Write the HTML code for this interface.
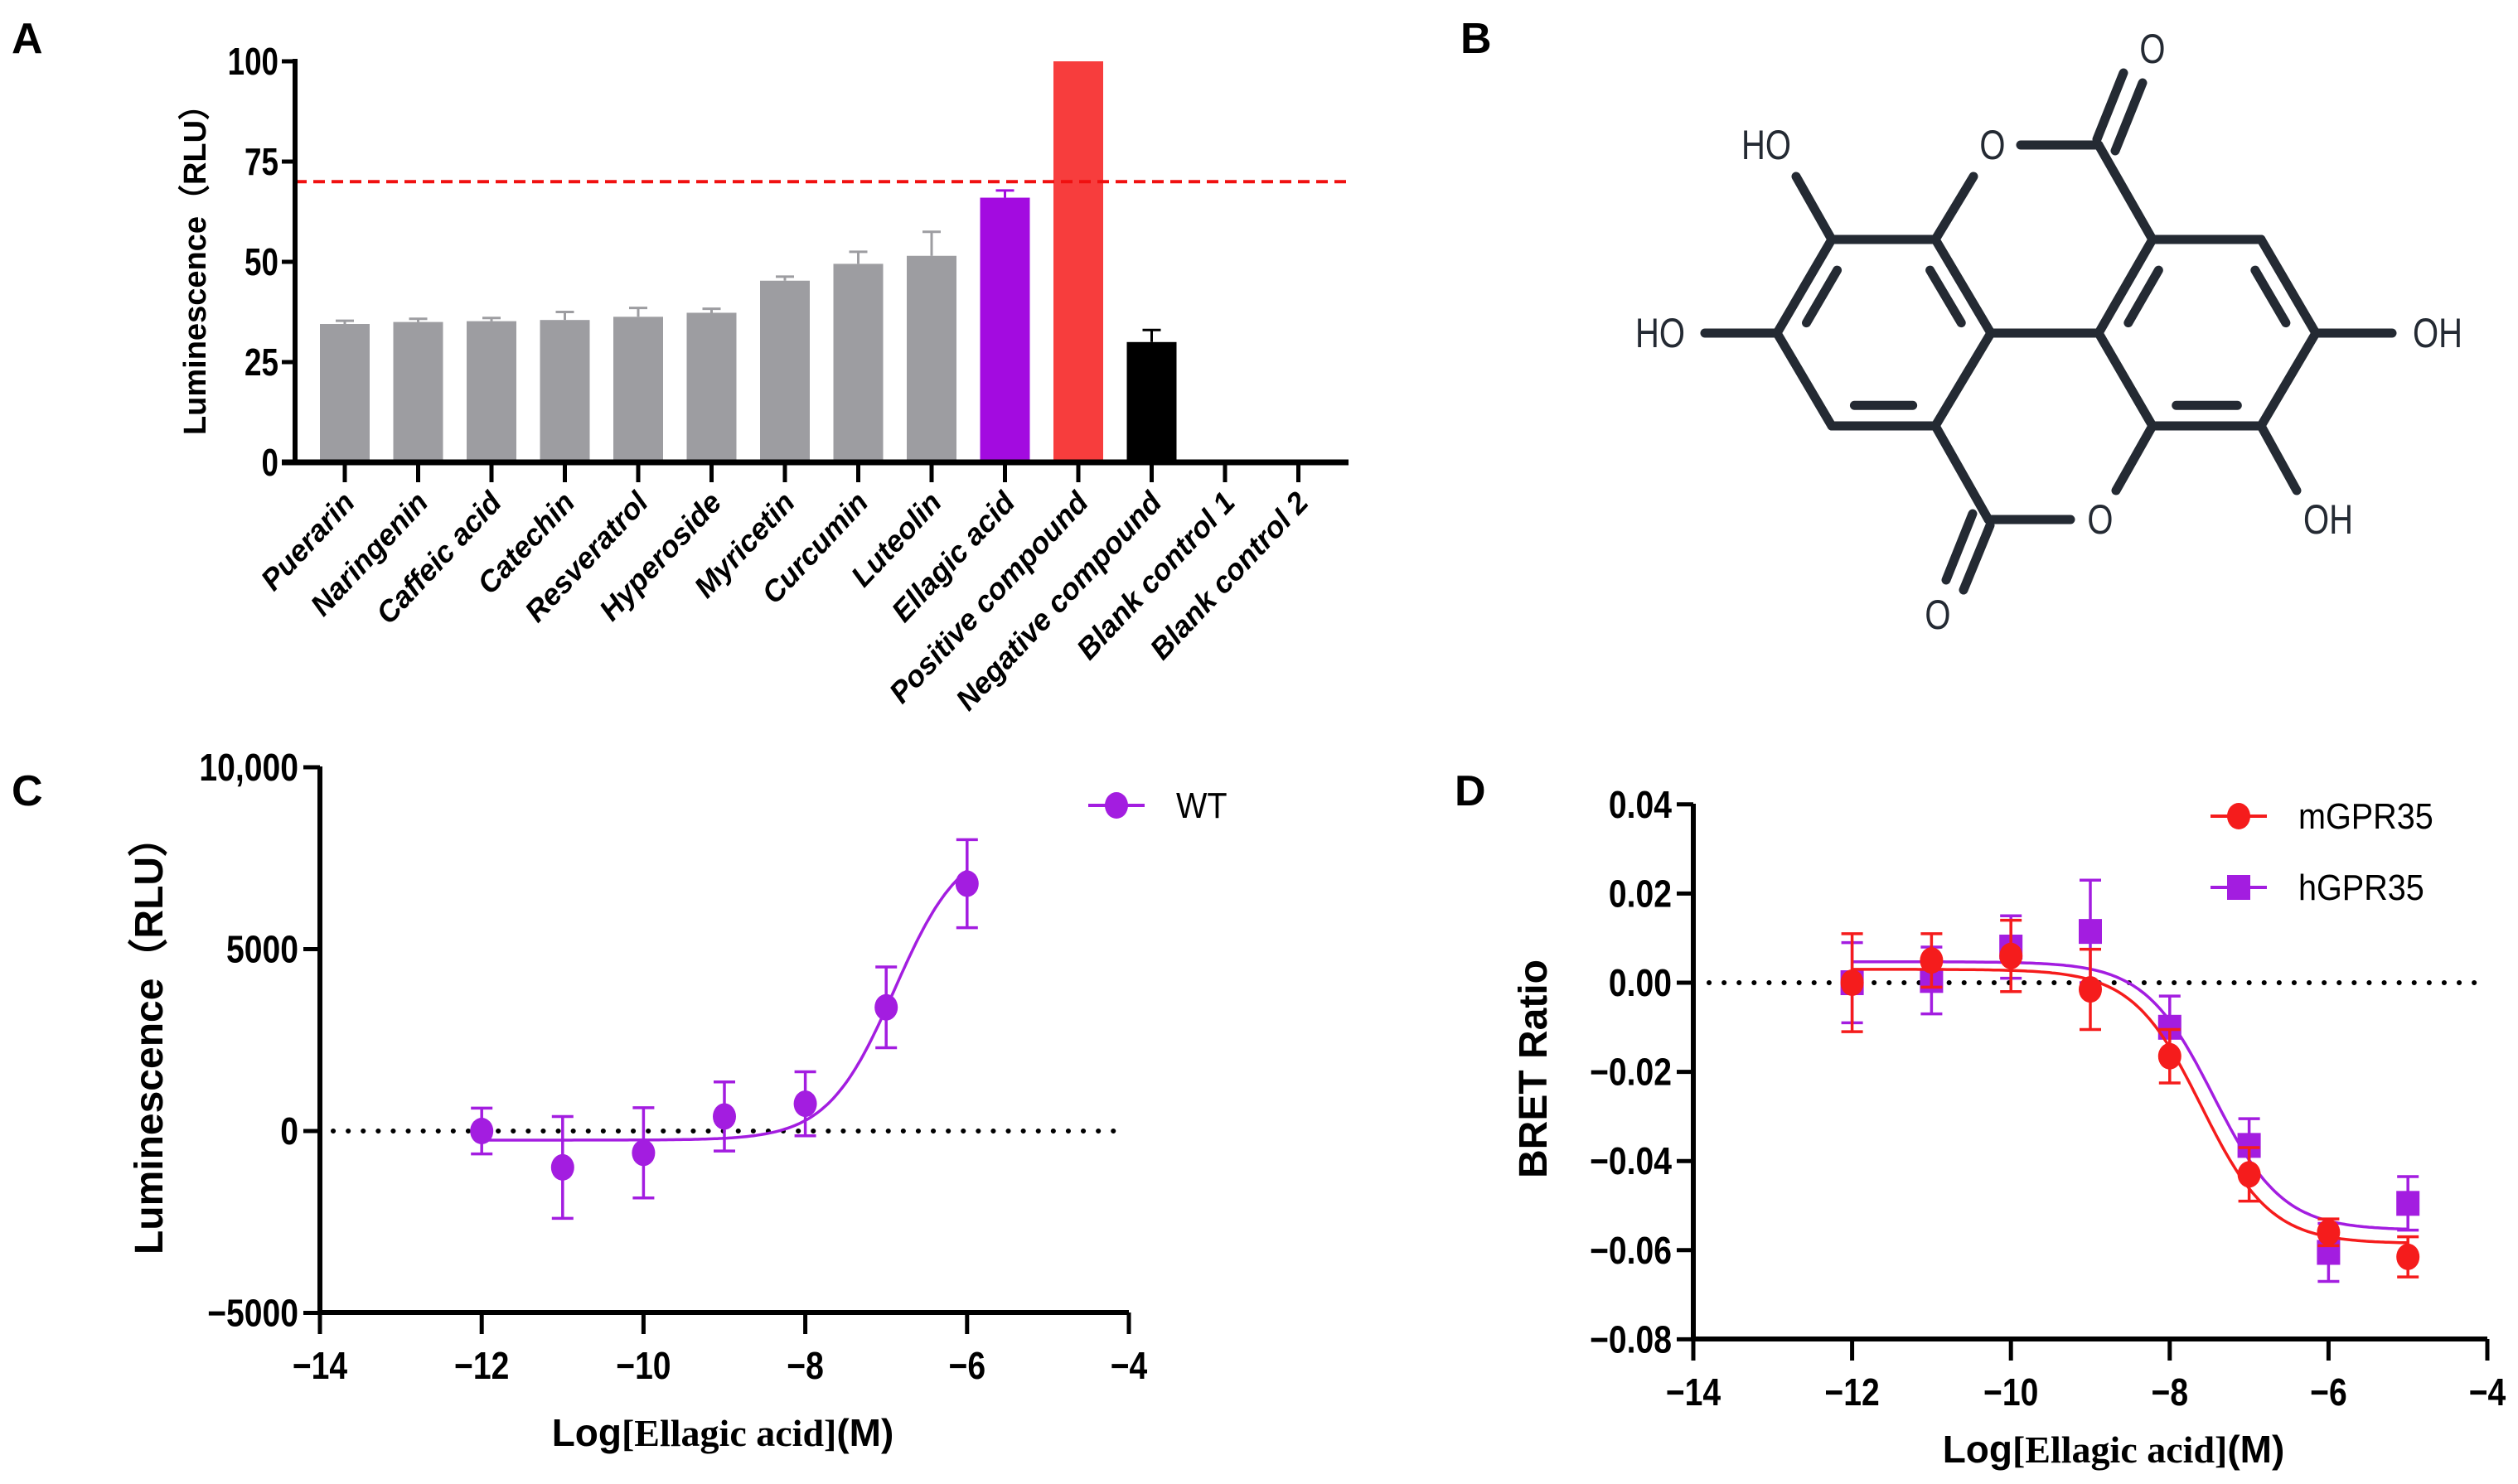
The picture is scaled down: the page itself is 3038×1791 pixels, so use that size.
<!DOCTYPE html>
<html><head><meta charset="utf-8"><style>
html,body{margin:0;padding:0;background:#fff;}
svg{display:block;}
text{font-family:"Liberation Sans",sans-serif;}
.tk{font-family:"Liberation Sans Narrow","Liberation Sans",sans-serif;font-weight:bold;}
</style></head><body>
<svg id="fig" width="3038" height="1791" viewBox="0 0 3038 1791" xmlns="http://www.w3.org/2000/svg">
<rect width="3038" height="1791" fill="#fff"/>
<text x="14" y="64" font-size="52" font-weight="bold">A</text>
<text x="1762" y="64" font-size="52" font-weight="bold">B</text>
<text x="14" y="972" font-size="52" font-weight="bold">C</text>
<text x="1755" y="972" font-size="52" font-weight="bold">D</text>
<g id="gA"></g>
<g id="gB"></g>
<g id="gC"></g>
<g id="gD"></g>
</svg>
<script>
// ---------- Panel A data ----------
const aCategories = ["Puerarin","Naringenin","Caffeic acid","Catechin","Resveratrol","Hyperoside","Myricetin","Curcumin","Luteolin","Ellagic acid","Positive compound","Negative compound","Blank control 1","Blank control 2"];
const aValues = [34.5,35,35.2,35.5,36.3,37.3,45.3,49.5,51.5,66,100,30,0,0];
const aErrors = [0.8,0.8,0.8,2.0,2.2,1.0,1.0,3.0,6.0,1.8,0,3.0,0,0];
const aColors = ["#9d9da1","#9d9da1","#9d9da1","#9d9da1","#9d9da1","#9d9da1","#9d9da1","#9d9da1","#9d9da1","#a30be0","#f73d3d","#000000","#9d9da1","#9d9da1"];
const aTicks = [0,25,50,75,100];
const aThreshold = 70;
// ---------- Panel C data ----------
const cX = [-12,-11,-10,-9,-8,-7,-6];
const cY = [0,-1000,-600,400,750,3400,6800];
const cErr = [630,1400,1240,950,880,1110,1210];
const cFit = {bottom:-250, top:8000, ec50:-6.9, hill:1.05};
const cYTicks = [-5000,0,5000,10000];
const cYTickLabels = ["\u22125000","0","5000","10,000"];
const cXTicks = [-14,-12,-10,-8,-6,-4];
// ---------- Panel D data ----------
const dX = [-12,-11,-10,-9,-8,-7,-6,-5];
const dM = [0.000,0.005,0.006,-0.0015,-0.0165,-0.043,-0.056,-0.0615];
const dMErr = [0.011,0.006,0.008,0.009,0.006,0.006,0.003,0.0045];
const dH = [0.000,0.0005,0.008,0.0115,-0.010,-0.0365,-0.0605,-0.0495];
const dHErr = [0.009,0.0075,0.007,0.0115,0.007,0.006,0.0065,0.006];
const dMFit = {top:0.003, bottom:-0.0585, ec50:-7.6, hill:-1.0};
const dHFit = {top:0.0047, bottom:-0.0555, ec50:-7.45, hill:-1.0};
const dYTicks = [-0.08,-0.06,-0.04,-0.02,0,0.02,0.04];
const dXTicks = [-14,-12,-10,-8,-6,-4];

const NS="http://www.w3.org/2000/svg";
function mk(parent,tag,attrs,txt){const e=document.createElementNS(NS,tag);for(const k in attrs)e.setAttribute(k,attrs[k]);if(txt!==undefined)e.textContent=txt;parent.appendChild(e);return e;}
const minus=s=>String(s).replace('-','\u2212');

// ---------- Panel A ----------
(function(){
const g=document.getElementById('gA');
const ax0=356, ax1=1627, y0=558, y100=74;
const ys=v=>y0+(y100-y0)*v/100;
const xs=i=>416+i*88.5;
const bw=60;
aCategories.forEach((c,i)=>{
  const v=aValues[i], x=xs(i);
  if(v>0){
    const e=aErrors[i];
    if(e>0){
      const el=mk(g,'path',{d:`M${x} ${ys(v)} V${ys(v+e)} M${x-11} ${ys(v+e)} H${x+11}`,stroke:aColors[i],'stroke-width':3,fill:'none'});
      
      
    }
    const r=mk(g,'rect',{x:x-bw/2,y:ys(v),width:bw,height:y0-ys(v),fill:aColors[i]});
    
    
  }
  const t=mk(g,'line',{x1:x,x2:x,y1:y0,y2:y0+24,stroke:'#000','stroke-width':5});
  
  
  const l=mk(g,'text',{x:0,y:0,'font-size':36,'font-weight':'bold','font-style':'italic','text-anchor':'end',transform:`translate(${x+14},${y0+50}) rotate(-47)`},c);
  
  
});
const th=mk(g,'line',{x1:ax0,x2:ax1,y1:ys(aThreshold),y2:ys(aThreshold),stroke:'#f01010','stroke-width':4,'stroke-dasharray':'14 8'});


const ya=mk(g,'line',{x1:ax0,x2:ax0,y1:y100-3,y2:y0,stroke:'#000','stroke-width':6});


const xa=mk(g,'line',{x1:ax0-16,x2:ax1,y1:y0,y2:y0,stroke:'#000','stroke-width':7});


aTicks.forEach(v=>{
  const t=mk(g,'line',{x1:ax0-16,x2:ax0,y1:ys(v),y2:ys(v),stroke:'#000','stroke-width':5});
  
  
  const l=mk(g,'text',{x:ax0-20,y:ys(v)+16,'font-size':46,'text-anchor':'end',class:'tk',transform:`translate(${ax0-20},0) scale(0.8,1) translate(${-(ax0-20)},0)`},String(v));
  
  
});
const yt=mk(g,'text',{x:0,y:0,'font-size':38,'font-weight':'bold','text-anchor':'middle',transform:'translate(248,316) rotate(-90)'},'Luminescence（RLU）');


})();

// ---------- Panel B (structure) ----------
(function(){
const g=document.getElementById('gB');
const col='#242a33', sw=11;
const L=[[2210,289],[2335,289],[2402,402],[2335,514],[2210,514],[2144,402]];
const R=[[2597,289],[2728,289],[2794,402],[2728,514],[2597,514],[2532,402]];
function line(a,b,w){mk(g,'line',{x1:a[0],y1:a[1],x2:b[0],y2:b[1],stroke:col,'stroke-width':w||sw,'stroke-linecap':'round'});}
function ring(P){for(let i=0;i<6;i++)line(P[i],P[(i+1)%6]);}
function inner(P,i){const c=[P.reduce((s,p)=>s+p[0],0)/6,P.reduce((s,p)=>s+p[1],0)/6];const a=P[i],b=P[(i+1)%6];
  const f=0.78; const sh=t=>[c[0]+(t[0]-c[0])*f,c[1]+(t[1]-c[1])*f];
  let A=sh(a),B=sh(b); const dx=B[0]-A[0],dy=B[1]-A[1]; const k=0.14;
  line([A[0]+dx*k,A[1]+dy*k],[B[0]-dx*k,B[1]-dy*k]);}
ring(L);ring(R);
inner(L,5);inner(L,1);inner(L,3);
inner(R,5);inner(R,1);inner(R,3);
line(L[2],R[5]);
line(L[0],[2167,213]); line(L[1],[2381,213]);
line([2438,175],[2532,175]); line([2532,175],R[0]);
line([2530,168],[2562,88]); line([2552,182],[2585,100]);
line(L[3],[2399,627]); line([2399,627],[2498,627]); line([2553,592],R[4]);
line([2401,634],[2369,712]); line([2380,620],[2348,700]);
line(L[5],[2057,402]); line(R[2],[2886,402]); line(R[3],[2771,592]);
const labs=[["HO",2131,175],["O",2404,175],["O",2597,59],["HO",2003,402],["OH",2941,402],["O",2534,627],["OH",2809,627],["O",2338,742]];
labs.forEach(([s,x,y])=>{const t=mk(g,'text',{x:x,y:y+17,'font-size':50,fill:col,'text-anchor':'middle',transform:`translate(${x},0) scale(0.8,1) translate(${-x},0)`},s);
  
  });
})();

// ---------- Shared dose-response drawing ----------
function sig(p,x){return p.bottom+(p.top-p.bottom)/(1+Math.pow(10,(p.ec50-x)*p.hill));}
function drawAxes(g,o){
  const xa=mk(g,'line',{x1:o.ax0-3,x2:o.xs(o.xmax),y1:o.yb,y2:o.yb,stroke:'#000','stroke-width':6});
  
  
  const ya=mk(g,'line',{x1:o.ax0,x2:o.ax0,y1:o.yt,y2:o.yb,stroke:'#000','stroke-width':6});
  
  
  o.xticks.forEach(v=>{
    const t=mk(g,'line',{x1:o.xs(v),x2:o.xs(v),y1:o.yb,y2:o.yb+26,stroke:'#000','stroke-width':5});
    
    
    const x=o.xs(v);
    const l=mk(g,'text',{x:x,y:o.yb+80,'font-size':46,'text-anchor':'middle',class:'tk',transform:`translate(${x},0) scale(0.85,1) translate(${-x},0)`},minus(v));
    
    
  });
  o.yticks.forEach((v,i)=>{
    const t=mk(g,'line',{x1:o.ax0-20,x2:o.ax0,y1:o.ys(v),y2:o.ys(v),stroke:'#000','stroke-width':5});
    
    
    const x=o.ax0-26;
    const l=mk(g,'text',{x:x,y:o.ys(v)+16,'font-size':46,'text-anchor':'end',class:'tk',transform:`translate(${x},0) scale(0.85,1) translate(${-x},0)`},o.ylabels[i]);
    
    
  });
  const z=mk(g,'line',{x1:o.z0,x2:o.z1,y1:o.ys(0),y2:o.ys(0),stroke:'#000','stroke-width':6,'stroke-dasharray':'0.1 18','stroke-linecap':'round'});
  
  
  const xt=mk(g,'text',{x:o.xtx,y:o.xty,'font-size':46,'font-weight':'bold','text-anchor':'middle'});
  
  
  mk(xt,'tspan',{},'Log');
  mk(xt,'tspan',{'font-family':'Liberation Serif, serif'},'[Ellagic acid]');
  mk(xt,'tspan',{},'(M)');
  const yt=mk(g,'text',{x:0,y:0,'font-size':o.ytsize,'font-weight':'bold','text-anchor':'middle',transform:`translate(${o.ytx},${o.yty}) rotate(-90)`},o.ytitle);
  
  
}
function drawSeries(g,o,X,Y,E,fit,color,shape,name){
  let d='';
  for(let k=0;k<=200;k++){const x=X[0]+(X[X.length-1]-X[0])*k/200;d+=(k?'L':'M')+o.xs(x).toFixed(1)+' '+o.ys(sig(fit,x)).toFixed(1);}
  const c=mk(g,'path',{d:d,stroke:color,'stroke-width':3.5,fill:'none'});
  
  
  X.forEach((xv,i)=>{
    const x=o.xs(xv),y=o.ys(Y[i]),yh=o.ys(Y[i]+E[i]),yl=o.ys(Y[i]-E[i]);
    const e=mk(g,'path',{d:`M${x} ${yh} V${yl} M${x-13} ${yh} H${x+13} M${x-13} ${yl} H${x+13}`,stroke:color,'stroke-width':3.5,fill:'none'});
    
    
    let m;
    if(shape==='circle') m=mk(g,'ellipse',{cx:x,cy:y,rx:14,ry:16,fill:color});
    else m=mk(g,'rect',{x:x-14,y:y-15,width:28,height:30,fill:color});
    
    
  });
}
function legend(g,x,y,color,shape,label,name){
  const l=mk(g,'line',{x1:x-34,x2:x+34,y1:y,y2:y,stroke:color,'stroke-width':4});
  
  
  let m;
  if(shape==='circle') m=mk(g,'ellipse',{cx:x,cy:y,rx:14,ry:16,fill:color});
  else m=mk(g,'rect',{x:x-14,y:y-15,width:28,height:30,fill:color});
  
  
  const t=mk(g,'text',{x:x+72,y:y+15,'font-size':44,transform:`translate(${x+72},0) scale(0.9,1) translate(${-(x+72)},0)`},label);
  
  
}

// ---------- Panel C ----------
(function(){
const g=document.getElementById('gC');
const o={ax0:386,yb:1584,yt:925,xmax:-4,
  xs:v=>386+(v+14)*97.6, ys:v=>1365-v*219.5/5000,
  xticks:cXTicks,yticks:cYTicks,ylabels:cYTickLabels,z0:402,z1:1347,
  xtx:872,xty:1745,ytitle:'Luminescence（RLU）',ytsize:48,ytx:196,yty:1250};
drawAxes(g,o);
drawSeries(g,o,cX,cY,cErr,cFit,'#a31de0','circle','wt');
legend(g,1347,972,'#a31de0','circle','WT','wt');
})();

// ---------- Panel D ----------
(function(){
const g=document.getElementById('gD');
const o={ax0:2043,yb:1616,yt:970,xmax:-4,
  xs:v=>2043+(v+14)*95.8, ys:v=>1186-v*107.6/0.02,
  xticks:dXTicks,yticks:dYTicks,ylabels:dYTicks.map(v=>minus(v.toFixed(2))),z0:2062,z1:2987,
  xtx:2550,xty:1765,ytitle:'BRET Ratio',ytsize:48,ytx:1866,yty:1290};
drawAxes(g,o);
drawSeries(g,o,dX,dH,dHErr,dHFit,'#a31de0','square','hgpr35');
drawSeries(g,o,dX,dM,dMErr,dMFit,'#f51c1c','circle','mgpr35');
legend(g,2701,985,'#f51c1c','circle','mGPR35','mgpr35');
legend(g,2701,1071,'#a31de0','square','hGPR35','hgpr35');
})();
</script>
</body></html>
